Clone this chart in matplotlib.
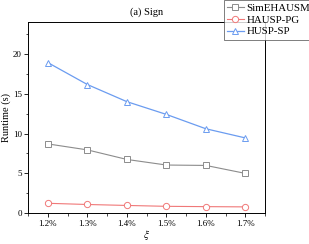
import matplotlib
matplotlib.use("Agg")
import matplotlib.pyplot as plt
from matplotlib.ticker import MultipleLocator

plt.rcParams['font.family'] = ['Liberation Serif', 'DejaVu Serif']
plt.rcParams['mathtext.fontset'] = 'stix'

xi_labels = ["1.2%", "1.3%", "1.4%", "1.5%", "1.6%", "1.7%"]
simehausm = [8.7, 7.95, 6.75, 6.05, 6.0, 5.0]
hausp_pg = [1.25, 1.1, 0.98, 0.87, 0.83, 0.8]
husp_sp = [18.9, 16.15, 14.0, 12.4, 10.6, 9.45]

fig = plt.figure(figsize=(3.09, 2.44), dpi=100)
ax = fig.add_axes([0.091, 0.126, 0.767, 0.784])

x = range(len(xi_labels))
ax.plot(x, simehausm, color='#8c8c8c', lw=0.8, marker='s', ms=4.5,
        mfc='white', mec='#8c8c8c', mew=0.7, label='SimEHAUSM')
ax.plot(x, hausp_pg, color='#f07878', lw=0.8, marker='o', ms=4.5,
        mfc='white', mec='#f07878', mew=0.7, label='HAUSP-PG')
ax.plot(x, husp_sp, color='#6b9cf0', lw=0.9, marker='^', ms=5,
        mfc='white', mec='#6b9cf0', mew=0.7, label='HUSP-SP')

ax.set_xlim(-0.5, 5.5)
ax.set_ylim(0, 24)
ax.set_xticks(list(x))
ax.set_xticklabels(xi_labels)
ax.xaxis.set_minor_locator(MultipleLocator(0.5))
ax.yaxis.set_major_locator(MultipleLocator(5))
ax.yaxis.set_minor_locator(MultipleLocator(2.5))
ax.tick_params(which='major', length=3, width=0.6, labelsize=6.5, pad=1.5)
ax.tick_params(which='minor', length=1.8, width=0.5)
for s in ax.spines.values():
    s.set_linewidth(0.7)

ax.set_title('(a) Sign', fontsize=7.5, pad=5)
ax.set_ylabel('Runtime (s)', fontsize=7.5, labelpad=1)
ax.set_xlabel(r'$\xi$', fontsize=8, labelpad=0)

leg = ax.legend(loc='upper left', bbox_to_anchor=(0.827, 1.115), fontsize=7.8,
                frameon=True, fancybox=False, edgecolor='#444444',
                handlelength=1.5, labelspacing=0.2, borderpad=0.3,
                handletextpad=0.25, borderaxespad=0)
leg.get_frame().set_linewidth(0.6)
leg.set_clip_on(False)

fig.savefig('out.png', dpi=100)
